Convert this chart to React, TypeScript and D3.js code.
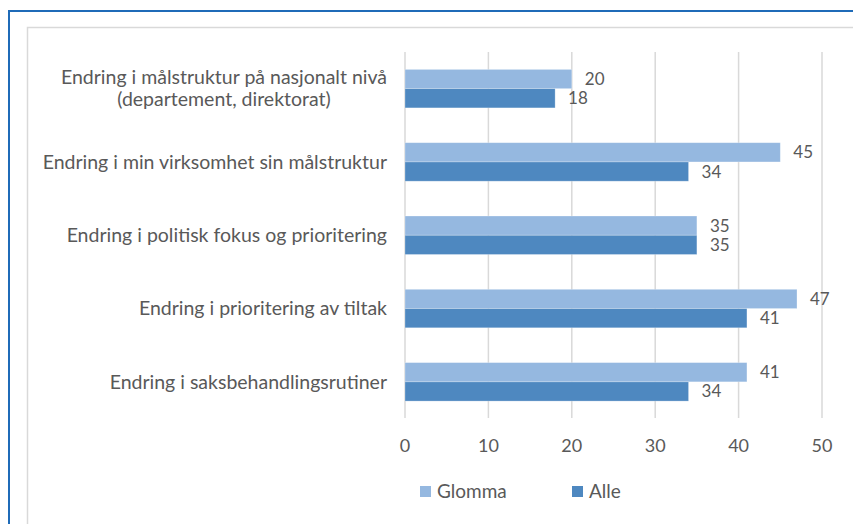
import React from "react";
import * as d3 from "d3";

const categories = [
  ["Endring i målstruktur på nasjonalt nivå", "(departement, direktorat)"],
  ["Endring i min virksomhet sin målstruktur"],
  ["Endring i politisk fokus og prioritering"],
  ["Endring i prioritering av tiltak"],
  ["Endring i saksbehandlingsrutiner"],
];
const glomma = [20, 45, 35, 47, 41];
const alle = [18, 34, 35, 41, 34];
const ticks = [0, 10, 20, 30, 40, 50];
const seriesNames = ["Glomma", "Alle"];
const colors = ["#95b8e0", "#4e88c0"];

const W = 853;
const H = 524;
const FONT = "Lato, 'Open Sans', sans-serif";
const TXT = "#595959";
const FS = 19.5;
const FSN = 17;
const FST = 18;

export default function App() {
  const x = d3.scaleLinear().domain([0, 50]).range([405, 822]);
  const y = d3
    .scaleBand<number>()
    .domain(d3.range(categories.length))
    .range([52, 418.5])
    .paddingInner(0.475)
    .paddingOuter(0.2375);
  const bw = y.bandwidth() / 2;
  const series = [glomma, alle];

  return (
    <svg
      width={W}
      height={H}
      style={{ position: "absolute", left: 0, top: 0, background: "#fff" }}
      fontFamily={FONT}
    >
      <rect x={0} y={0} width={W} height={H} fill="#fff" />
      <rect x={9} y={11} width={W + 20} height={H + 20} fill="none" stroke="#1f6bb8" strokeWidth={2} />
      <rect x={27.5} y={27.5} width={W + 20} height={H + 20} fill="none" stroke="#d9d9d9" strokeWidth={1.5} />
      {ticks.map((t) => (
        <line key={t} x1={x(t)} x2={x(t)} y1={52} y2={418} stroke="#d9d9d9" strokeWidth={1.5} />
      ))}
      {categories.map((c, i) => {
        const cy = (y(i) as number) + y.bandwidth() / 2;
        return (
          <g key={i}>
            {series.map((s, j) => (
              <g key={j}>
                <rect
                  x={x(0)}
                  y={(y(i) as number) + j * bw}
                  width={x(s[i]) - x(0)}
                  height={bw}
                  fill={colors[j]}
                  stroke="#ffffff"
                  strokeOpacity={0.35}
                  strokeWidth={0.75}
                />
                <text
                  x={x(s[i]) + 13}
                  y={(y(i) as number) + j * bw + bw / 2}
                  dy="0.35em"
                  fontSize={FSN}
                  fill={TXT}
                >
                  {s[i]}
                </text>
              </g>
            ))}
            {c.length === 1 ? (
              <text x={387} y={cy} dy="0.35em" textAnchor="end" fontSize={FS} fill={TXT}>
                {c[0]}
              </text>
            ) : (
              <text textAnchor="middle" fontSize={FS} fill={TXT}>
                {c.map((line, k) => (
                  <tspan key={k} x={224} y={cy + (k - (c.length - 1) / 2) * 22} dy="0.35em">
                    {line}
                  </tspan>
                ))}
              </text>
            )}
          </g>
        );
      })}
      {ticks.map((t) => (
        <text key={t} x={x(t)} y={446} dy="0.35em" textAnchor="middle" fontSize={FST} fill={TXT}>
          {t}
        </text>
      ))}
      {seriesNames.map((n, j) => (
        <g key={n} transform={`translate(${[420, 572][j]},0)`}>
          <rect x={0} y={486} width={11} height={11} fill={colors[j]} />
          <text x={17} y={491.5} dy="0.35em" fontSize={19} fill={TXT}>
            {n}
          </text>
        </g>
      ))}
    </svg>
  );
}
